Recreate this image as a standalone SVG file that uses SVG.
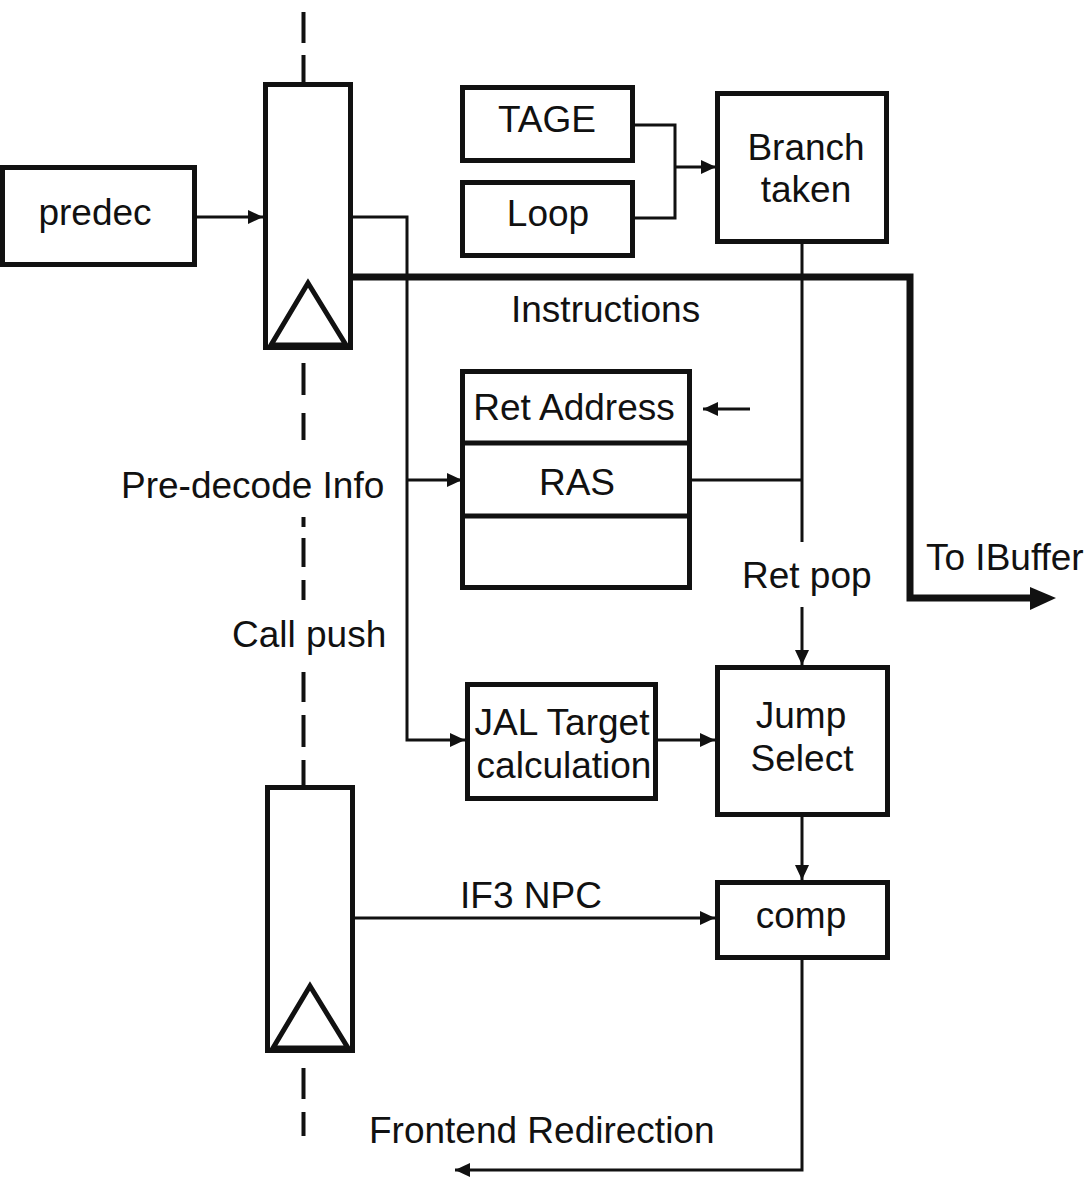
<svg xmlns="http://www.w3.org/2000/svg" width="1088" height="1177" viewBox="0 0 1088 1177">
<defs>
<style>
.box{fill:#fff;stroke:#111;stroke-width:5}
.ln{fill:none;stroke:#111;stroke-width:3}
.bus{fill:none;stroke:#111;stroke-width:7}
.dash{fill:none;stroke:#111;stroke-width:4}
.t{font-family:"Liberation Sans",Arial,sans-serif;font-size:37px;fill:#111}
.c{text-anchor:middle}
</style>
<marker id="ah" viewBox="0 0 15 14" refX="15" refY="7" markerWidth="15" markerHeight="14" markerUnits="userSpaceOnUse" orient="auto">
<path d="M0,0 L15,7 L0,14 z" fill="#111"/>
</marker>
</defs>
<rect width="1088" height="1177" fill="#fff"/>
<g id="stage-line">
<path class="dash" d="M303.5,12 V43 M303.5,55 V82 M303.5,363 V395 M303.5,413 V440 M303.5,517 V527 M303.5,538 V567 M303.5,580 V600 M303.5,672 V702 M303.5,715 V747 M303.5,760 V786 M303.5,1068 V1099 M303.5,1112 V1136"/>
</g>
<g id="connectors">
<path class="ln" d="M197,217 H263" marker-end="url(#ah)"/>
<path class="ln" d="M353,217 H407 V740 H465" marker-end="url(#ah)"/>
<path class="ln" d="M407,480 H462" marker-end="url(#ah)"/>
<path class="ln" d="M635,125 H675 V218 H635"/>
<path class="ln" d="M675,167 H716" marker-end="url(#ah)"/>
<path class="ln" d="M802,244 V542"/>
<path class="ln" d="M692,480 H802"/>
<path class="ln" d="M802,607 V665" marker-end="url(#ah)"/>
<path class="ln" d="M750,409 H703" marker-end="url(#ah)"/>
<path class="ln" d="M658,740 H715" marker-end="url(#ah)"/>
<path class="ln" d="M802,817 V880" marker-end="url(#ah)"/>
<path class="ln" d="M355,918 H715" marker-end="url(#ah)"/>
<path class="ln" d="M802,960 V1170 H455" marker-end="url(#ah)"/>
<path class="bus" d="M353,277 H910 V598 H1032"/>
<polygon points="1030,587 1056,598 1030,610" fill="#111"/>
</g>
<g id="predec">
<rect class="box" x="2.5" y="167.5" width="192" height="97"/>
<text class="t c" x="95" y="225">predec</text>
</g>
<g id="reg-if2">
<rect class="box" x="265.5" y="84.5" width="85" height="263"/>
<polygon class="box" points="308,283 271,345 346,345" fill="none"/>
</g>
<g id="reg-if3">
<rect class="box" x="267.5" y="787.5" width="85" height="263"/>
<polygon class="box" points="310,986 273,1048 348,1048" fill="none"/>
</g>
<g id="tage">
<rect class="box" x="462.5" y="87.5" width="170" height="73"/>
<text class="t c" x="547" y="132">TAGE</text>
</g>
<g id="loop">
<rect class="box" x="462.5" y="182.5" width="170" height="73"/>
<text class="t c" x="548" y="226">Loop</text>
</g>
<g id="branch-taken">
<rect class="box" x="717.5" y="93.5" width="169" height="148"/>
<text class="t c" x="806" y="160">Branch</text>
<text class="t c" x="806" y="202">taken</text>
</g>
<g id="ras">
<rect class="box" x="462.5" y="371.5" width="227" height="216"/>
<line x1="462.5" y1="443" x2="689.5" y2="443" stroke="#111" stroke-width="5"/>
<line x1="462.5" y1="516" x2="689.5" y2="516" stroke="#111" stroke-width="5"/>
<text class="t c" x="574" y="420">Ret Address</text>
<text class="t c" x="577" y="495">RAS</text>
</g>
<g id="jal">
<rect class="box" x="467.5" y="684.5" width="188" height="114"/>
<text class="t c" x="562" y="735">JAL Target</text>
<text class="t c" x="564" y="778">calculation</text>
</g>
<g id="jump-select">
<rect class="box" x="717.5" y="667.5" width="170" height="147"/>
<text class="t c" x="801" y="728">Jump</text>
<text class="t c" x="802" y="771">Select</text>
</g>
<g id="comp">
<rect class="box" x="717.5" y="882.5" width="170" height="75"/>
<text class="t c" x="801" y="928">comp</text>
</g>
<g id="labels">
<text class="t" x="511" y="322">Instructions</text>
<text class="t" x="121" y="498">Pre-decode Info</text>
<text class="t" x="232" y="647">Call push</text>
<text class="t" x="742" y="588">Ret pop</text>
<text class="t" x="926" y="570">To IBuffer</text>
<text class="t" x="460" y="908">IF3 NPC</text>
<text class="t" x="369" y="1143">Frontend Redirection</text>
</g>
</svg>
